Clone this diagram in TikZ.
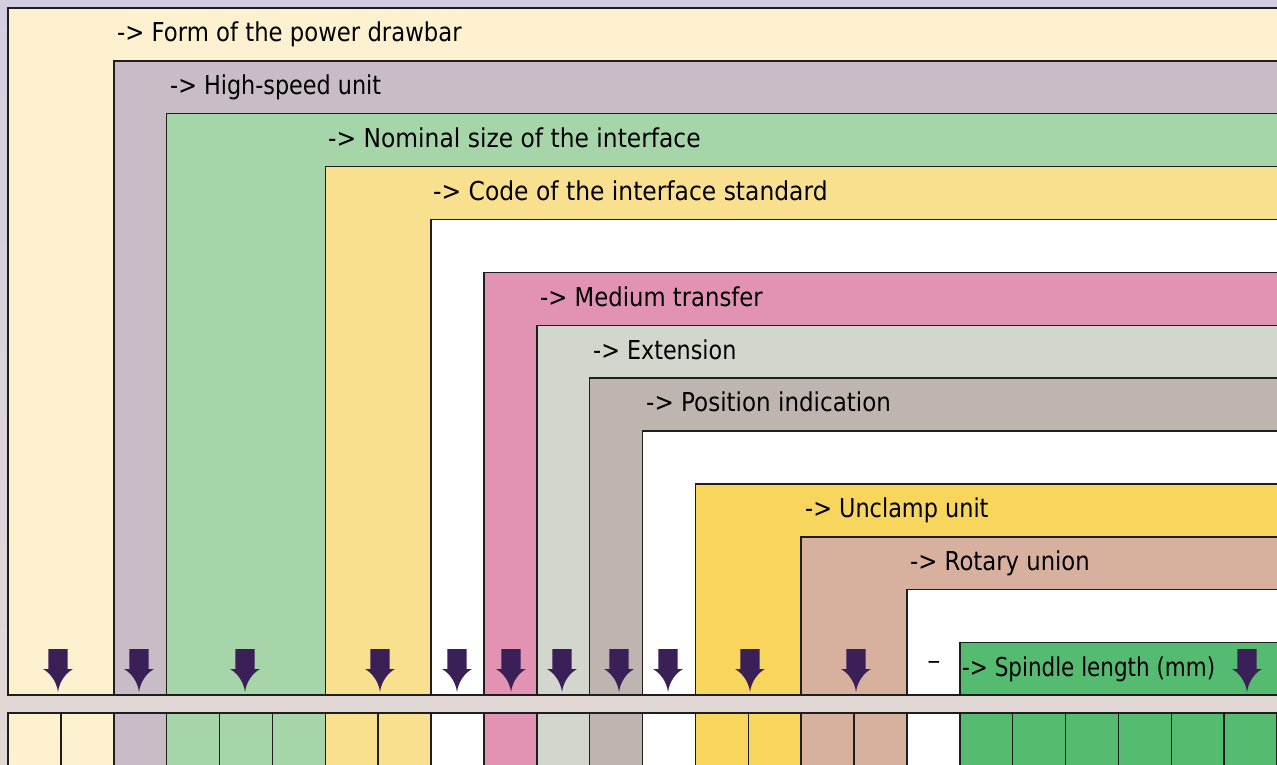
\documentclass[tikz,border=0pt]{standalone}
\usepackage{fontspec}
\setmainfont{DejaVu Sans}[FakeStretch=0.875]
\definecolor{bgtop}{HTML}{D4CDE0}
\definecolor{bgbot}{HTML}{E2D9D4}
\definecolor{cA}{HTML}{FEF1D0}
\definecolor{cB}{HTML}{C8BCC7}
\definecolor{cC}{HTML}{A6D5AA}
\definecolor{cD}{HTML}{F9E08E}
\definecolor{cE}{HTML}{FFFFFF}
\definecolor{cF}{HTML}{E293B3}
\definecolor{cG}{HTML}{D3D6CC}
\definecolor{cH}{HTML}{BFB5B0}
\definecolor{cI}{HTML}{F8D65E}
\definecolor{cJ}{HTML}{D8B19E}
\definecolor{cK}{HTML}{55BB70}
\definecolor{arrowcol}{HTML}{3B1F57}
\definecolor{edge}{HTML}{1E1E1E}
\newcommand{\lbtext}[2]{\scalebox{#1}[1]{#2}}
\begin{document}
\begin{tikzpicture}[x=1pt,y=-1pt,
  boxline/.style={draw=edge,line width=1.5pt},
  lbl/.style={anchor=base west,inner sep=0pt,font=\fontsize{26}{30}\selectfont,text=black},
  downarrow/.pic={\fill[arrowcol] (-9.6,0) -- (9.6,0) -- (9.6,20) -- (15,20)
      .. controls (8,24) and (1.5,32) .. (0,43)
      .. controls (-1.5,32) and (-8,24) .. (-15,20) -- (-9.6,20) -- cycle;}]
\pgfmathsetmacro{\u}{52.875}
\useasboundingbox (0,0) rectangle (1277,765);
\clip (0,0) rectangle (1277,765);
\shade[top color=bgtop,bottom color=bgbot] (0,0) rectangle (1277,765);
% nested boxes
\foreach \k/\l/\c in {0/0/cA,1/2/cB,2/3/cC,3/6/cD,4/8/cE,5/9/cF,6/10/cG,7/11/cH,8/12/cE,9/13/cI,10/15/cJ,11/17/cE,12/18/cK}{
  \fill[\c,boxline] ({8+\l*\u},{8+\k*\u}) rectangle (1300,695);
}
% labels
\node[lbl] (l0) at (117,41.7) {-> Form of the power drawbar};
\node[lbl] (l1) at (170,94.6) {\lbtext{0.981}{-> High-speed unit}};
\node[lbl] (l2) at (328,147.5) {\lbtext{1.028}{-> Nominal size of the interface}};
\node[lbl] (l3) at (433,200.4) {\lbtext{1.029}{-> Code of the interface standard}};
\node[lbl] (l5) at (540,306.1) {-> Medium transfer};
\node[lbl] (l6) at (593,359) {\lbtext{0.98}{-> Extension}};
\node[lbl] (l7) at (646,411.9) {\lbtext{1.012}{-> Position indication}};
\node[lbl] (l9) at (805,517.6) {\lbtext{0.984}{-> Unclamp unit}};
\node[lbl] (l10) at (910,570.5) {-> Rotary union};
\node[lbl] (l12) at (962,676.2) {\lbtext{0.944}{-> Spindle length (mm)}};
\node[lbl,anchor=base] (dash) at (934,669.5) {\lbtext{1.15}{–}};
% arrows
\foreach \x in {58,139,245,380,457,511,562,619,668,750,856,1247}{
  \pic at (\x,649) {downarrow};
}
% bottom row
\foreach \i/\c in {0/cA,1/cA,2/cB,3/cC,4/cC,5/cC,6/cD,7/cD,8/cE,9/cF,10/cG,11/cH,12/cE,13/cI,14/cI,15/cJ,16/cJ,17/cE,18/cK,19/cK,20/cK,21/cK,22/cK,23/cK}{
  \fill[\c,boxline] ({8+\i*\u},713) rectangle ({8+(\i+1)*\u},790);
}
\end{tikzpicture}
\end{document}
